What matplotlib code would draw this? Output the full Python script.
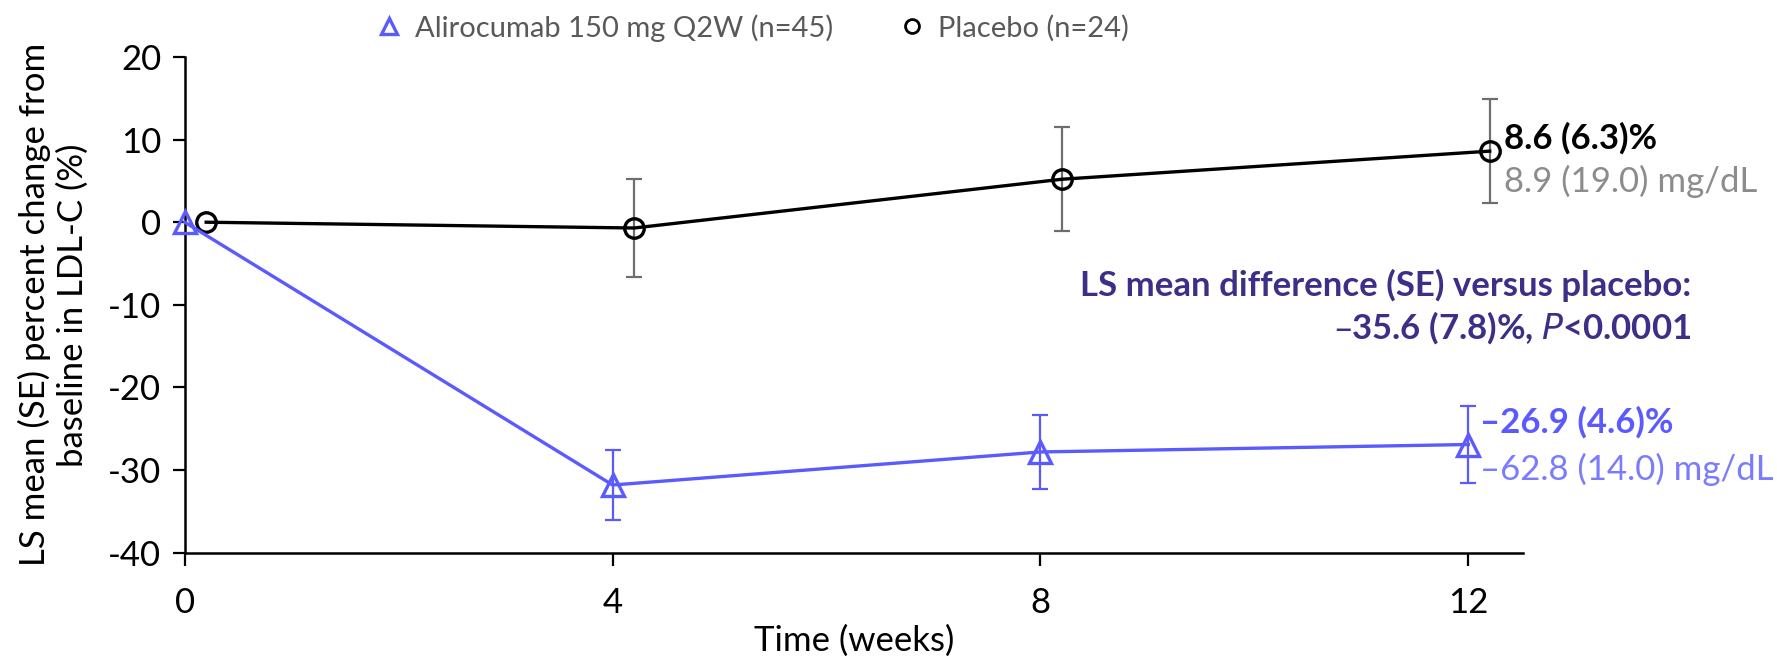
import matplotlib.pyplot as plt
from matplotlib.lines import Line2D

plt.rcParams['font.family'] = ['Lato', 'DejaVu Sans']

# data
weeks_alir = [0, 4, 8, 12]
alir_mean = [0, -31.8, -27.8, -26.9]
alir_se = [0, 4.2, 4.5, 4.6]

weeks_plac = [0.2, 4.2, 8.2, 12.2]
plac_mean = [0, -0.7, 5.2, 8.6]
plac_se = [0, 5.9, 6.3, 6.3]

xticks = [0, 4, 8, 12]
yticks = [20, 10, 0, -10, -20, -30, -40]

blue = '#5A5AFF'
lightblue = '#7B7BFF'
purple = '#3B2F87'
gray = '#6E6E6E'
textgray = '#8C8C8C'

fig = plt.figure(figsize=(17.77, 6.62), dpi=100)
ax = fig.add_axes([0.104, 0.165, 0.753, 0.749])

# placebo
ax.errorbar(weeks_plac[1:], plac_mean[1:], yerr=plac_se[1:], fmt='none',
            ecolor=gray, elinewidth=1.6, capsize=6, capthick=1.6, zorder=2)
ax.plot(weeks_plac, plac_mean, color='black', lw=2.4, marker='o', ms=14,
        mfc='none', mec='black', mew=2.4, zorder=3, clip_on=False)

# alirocumab
ax.errorbar(weeks_alir[1:], alir_mean[1:], yerr=alir_se[1:], fmt='none',
            ecolor=blue, elinewidth=1.6, capsize=6, capthick=1.6, zorder=2)
ax.plot(weeks_alir, alir_mean, color=blue, lw=2.4, marker='^', ms=16,
        mfc='none', mec=blue, mew=2.4, zorder=4, clip_on=False)

ax.set_xlim(0, 12.51)
ax.set_ylim(-40, 20)
ax.set_xticks(xticks)
ax.set_yticks(yticks)
ax.set_yticklabels([str(v) for v in yticks])
ax.tick_params(labelsize=25, length=9, width=1.6, pad=8)
ax.tick_params(axis='x', pad=16)
for s in ['top', 'right']:
    ax.spines[s].set_visible(False)
for s in ['left', 'bottom']:
    ax.spines[s].set_linewidth(1.8)

ax.set_xlabel('Time (weeks)', fontsize=25, labelpad=4)
ax.set_ylabel('LS mean (SE) percent change from\nbaseline in LDL-C (%)',
              fontsize=25, linespacing=1.2, labelpad=14)

# annotations
ax.text(12.33, 10.1, '8.6 (6.3)%', fontsize=25, fontweight='bold',
        color='black', va='center', clip_on=False)
ax.text(12.33, 4.9, '8.9 (19.0) mg/dL', fontsize=25, color=textgray,
        va='center', clip_on=False)
ax.text(12.11, -24.2, '\u201326.9 (4.6)%', fontsize=25, fontweight='bold',
        color=blue, va='center', clip_on=False)
ax.text(12.11, -29.9, '\u201362.8 (14.0) mg/dL', fontsize=25, color=lightblue,
        va='center', clip_on=False)
ax.text(14.08, -7.65, 'LS mean difference (SE) versus placebo:', fontsize=25,
        fontweight='bold', color=purple, ha='right', va='center', clip_on=False)
ax.text(14.08, -12.8, '\u201335.6 (7.8)%, $\\mathbf{\\mathit{P}}$<0.0001',
        fontsize=25, fontweight='bold', color=purple, ha='right', va='center',
        clip_on=False)

handles = [
    Line2D([], [], ls='none', marker='^', ms=11, mfc='none', mec=blue, mew=2.4),
    Line2D([], [], ls='none', marker='o', ms=10, mfc='none', mec='black', mew=2),
]
labels = ['Alirocumab 150 mg Q2W (n=45)', 'Placebo (n=24)']
leg = fig.legend(handles, labels, loc='center', bbox_to_anchor=(0.423, 0.958),
                 ncol=2, frameon=False, fontsize=21, handletextpad=0.4,
                 columnspacing=2.2, handlelength=1.0)
for t in leg.get_texts():
    t.set_color('#595959')

fig.savefig('out.png', dpi=100)
